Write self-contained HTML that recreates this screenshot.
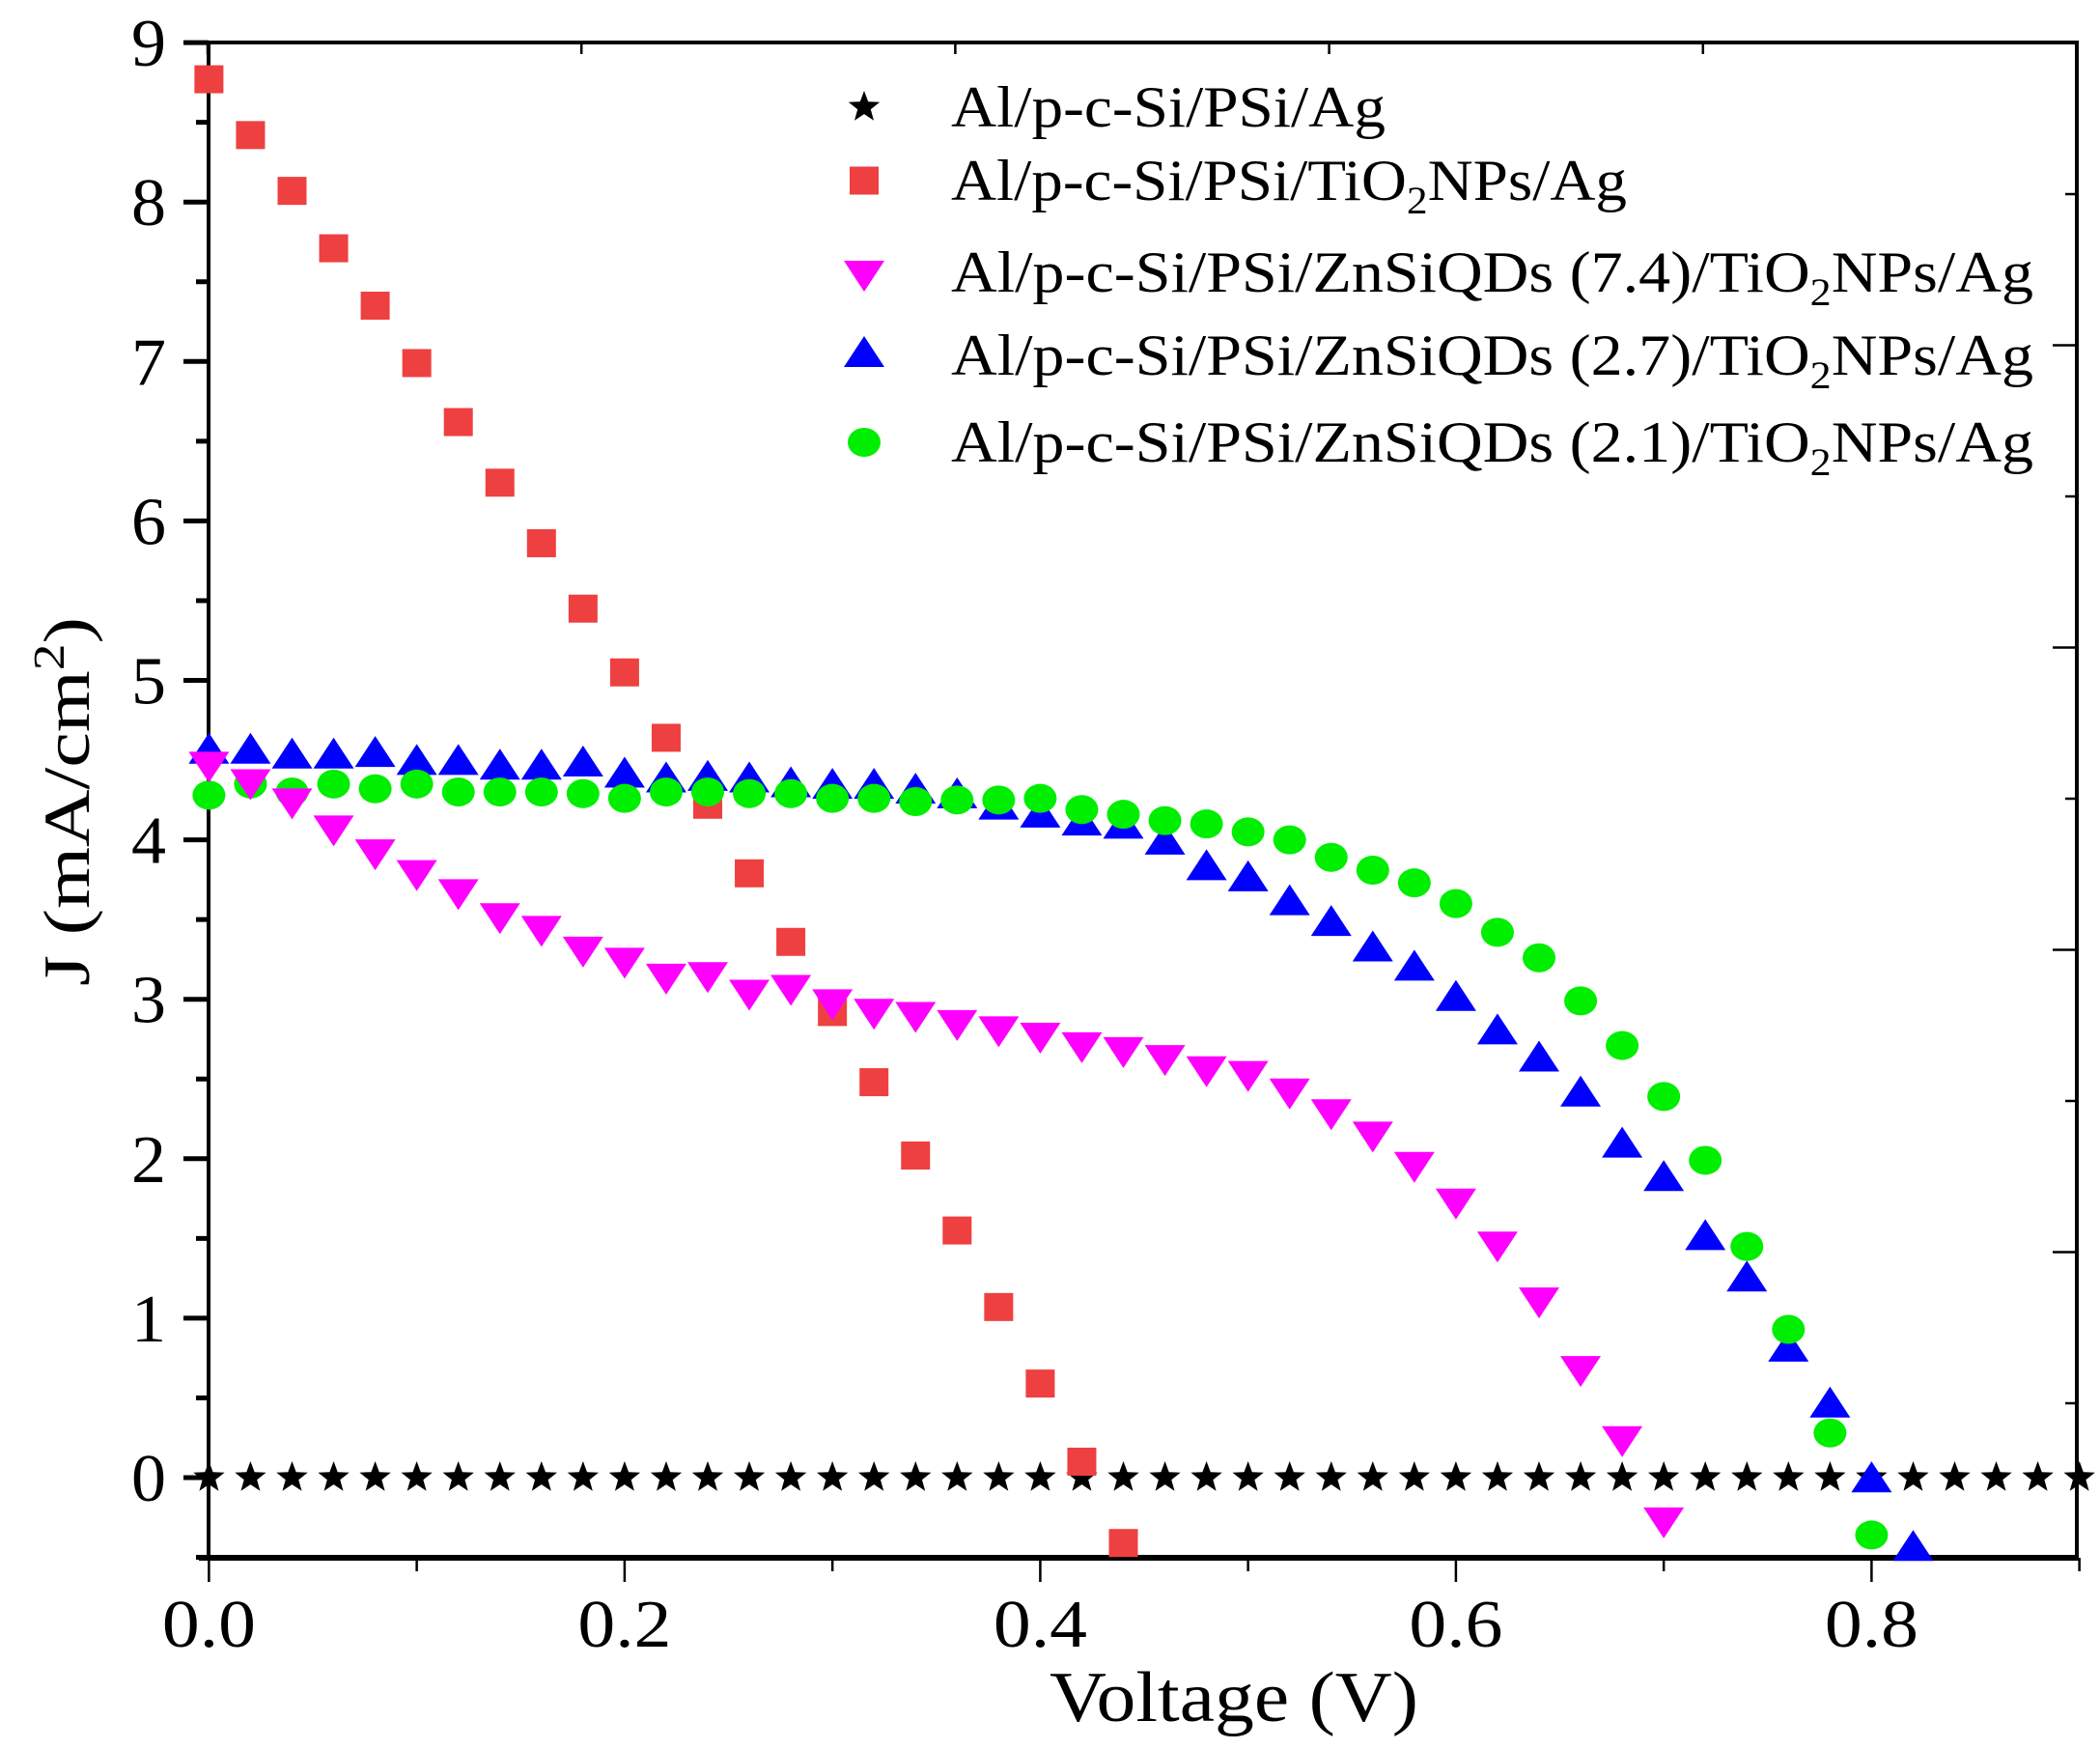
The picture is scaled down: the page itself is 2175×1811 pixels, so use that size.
<!DOCTYPE html>
<html><head><meta charset="utf-8"><style>
html,body{margin:0;padding:0;background:#fff}
svg{display:block}
text{font-family:"Liberation Serif","Times New Roman",serif;fill:#000}
</style></head><body>
<svg id="chart" width="2175" height="1811" viewBox="0 0 2175 1811" xmlns="http://www.w3.org/2000/svg">
<g id="axes"></g>
<g id="marks"></g>
<g id="legend"></g>
</svg>
<script>
const xTicks = [0, 0.2, 0.4, 0.6, 0.8];
const xTickLabels = ["0.0", "0.2", "0.4", "0.6", "0.8"];
const yTicks = [0, 1, 2, 3, 4, 5, 6, 7, 8, 9];
const yTickLabels = ["0", "1", "2", "3", "4", "5", "6", "7", "8", "9"];
const seriesNames = ["Al/p-c-Si/PSi/Ag", "Al/p-c-Si/PSi/TiO2NPs/Ag", "Al/p-c-Si/PSi/ZnSiQDs (7.4)/TiO2NPs/Ag", "Al/p-c-Si/PSi/ZnSiQDs (2.7)/TiO2NPs/Ag", "Al/p-c-Si/PSi/ZnSiQDs (2.1)/TiO2NPs/Ag"];
const stepV = 0.02;
const blackJ = [0,0,0,0,0,0,0,0,0,0,0,0,0,0,0,0,0,0,0,0,0,0,0,0,0,0,0,0,0,0,0,0,0,0,0,0,0,0,0,0,0,0,0,0,0,0];
const redJ = [8.77,8.42,8.07,7.71,7.35,6.99,6.62,6.24,5.86,5.45,5.05,4.64,4.22,3.79,3.36,2.92,2.48,2.02,1.55,1.07,0.59,0.10,-0.41];
const magentaJ = [4.48,4.37,4.25,4.08,3.93,3.80,3.68,3.53,3.45,3.32,3.25,3.15,3.16,3.05,3.08,2.99,2.93,2.91,2.86,2.82,2.78,2.72,2.69,2.64,2.57,2.54,2.43,2.30,2.16,1.97,1.74,1.47,1.12,0.69,0.25,-0.26];
const blueJ = [4.55,4.55,4.52,4.52,4.53,4.48,4.48,4.45,4.45,4.47,4.40,4.37,4.38,4.37,4.34,4.33,4.33,4.30,4.27,4.20,4.15,4.10,4.08,3.98,3.82,3.75,3.60,3.47,3.31,3.19,3.00,2.79,2.62,2.40,2.08,1.87,1.50,1.24,0.80,0.45,-0.02,-0.45];
const greenJ = [4.28,4.35,4.30,4.35,4.32,4.35,4.30,4.30,4.30,4.29,4.26,4.30,4.30,4.29,4.29,4.26,4.26,4.24,4.25,4.25,4.26,4.19,4.16,4.12,4.10,4.05,4.00,3.89,3.81,3.73,3.60,3.42,3.26,2.99,2.71,2.39,1.99,1.45,0.93,0.28,-0.36];

const NS = "http://www.w3.org/2000/svg";
const X0 = 216.4, XS = 2152.5, Y0 = 1530, YS = 165.1;
const L = 216, R = 2151, T = 44, B = 1613;
function xs(v){ return X0 + v * XS; }
function ys(j){ return Y0 - j * YS; }
function mk(tag, attrs, parent){ const e = document.createElementNS(NS, tag); for (const k in attrs) e.setAttribute(k, attrs[k]); parent.appendChild(e); return e; }

const axes = document.getElementById('axes');
const marks = document.getElementById('marks');
const legend = document.getElementById('legend');

let fr = mk('rect', {x:L, y:T, width:R-L, height:B-T, fill:'none', stroke:'#000', 'stroke-width':4}, axes);


let bl = mk('line', {x1:206, y1:B, x2:R+2, y2:B, stroke:'#000', 'stroke-width':6}, axes);



for (let i = 0; i <= 9; i++) {
  const v = i * 0.1; const major = i % 2 === 0;
  const t = mk('line', {x1:xs(v), y1:B, x2:xs(v), y2:B + (major ? 25 : 14), stroke:'#000', 'stroke-width':2.5}, axes);
  
  
}
xTicks.forEach((v, i) => {
  const t = mk('text', {x:xs(v), y:1705, 'font-size':70, 'text-anchor':'middle', textLength:97, lengthAdjust:'spacingAndGlyphs'}, axes);
  t.textContent = xTickLabels[i];
  
  
});
for (let i = 0; i <= 5; i++) {
  const x = 215 + i * 387.2;
  const t = mk('line', {x1:x, y1:T, x2:x, y2:T + 12, stroke:'#000', 'stroke-width':2.5}, axes);
  
  
}
for (let i = -1; i <= 18; i++) {
  const j = i * 0.5; const major = i % 2 === 0;
  const y = ys(j); if (y > B + 1 || y < T - 1) continue;
  const t = mk('line', {x1:L - (major ? 26 : 13), y1:y, x2:L, y2:y, stroke:'#000', 'stroke-width':5}, axes);
  
  
}
yTicks.forEach((v, i) => {
  const t = mk('text', {x:172, y:ys(v) + 24, 'font-size':70, 'text-anchor':'end', textLength:36, lengthAdjust:'spacingAndGlyphs'}, axes);
  t.textContent = yTickLabels[i];
  
  
});
for (let i = 0; i < 9; i++) {
  const y = 201 + i * 156.5; const major = i % 2 === 1;
  const t = mk('line', {x1:R - (major ? 25 : 12), y1:y, x2:R, y2:y, stroke:'#000', 'stroke-width':2.5}, axes);
  
  
}
const xt = mk('text', {x:1278, y:1782, 'font-size':74, 'text-anchor':'middle', textLength:382, lengthAdjust:'spacingAndGlyphs'}, axes);
xt.textContent = 'Voltage (V)';


const yt = mk('text', {x:0, y:0, 'font-size':68, 'text-anchor':'middle', textLength:382, lengthAdjust:'spacingAndGlyphs', transform:'translate(92,830) rotate(-90)'}, axes);
yt.innerHTML = 'J (mA/cm<tspan dy="-26" font-size="46">2</tspan><tspan dy="26">)</tspan>';



const colors = ['#000000', '#ee4040', '#ff00ff', '#0000ff', '#00ee00'];
function star(cx, cy, r){ let p=[]; for(let k=0;k<10;k++){const a=-Math.PI/2+k*Math.PI/5; const rr=k%2?r*0.42:r; p.push((cx+rr*Math.cos(a)).toFixed(1)+','+(cy+rr*Math.sin(a)).toFixed(1));} return p.join(' '); }
function drawMarker(type, cx, cy, parent){
  let e;
  if (type === 0) e = mk('polygon', {points:star(cx, cy, 17), fill:colors[0]}, parent);
  else if (type === 1) e = mk('rect', {x:cx-15, y:cy-14.5, width:30, height:29, fill:colors[1]}, parent);
  else if (type === 2) e = mk('polygon', {points:`${cx-21},${cy-12} ${cx+21},${cy-12} ${cx},${cy+20}`, fill:colors[2]}, parent);
  else if (type === 3) e = mk('polygon', {points:`${cx-21},${cy+12} ${cx+21},${cy+12} ${cx},${cy-20}`, fill:colors[3]}, parent);
  else e = mk('ellipse', {cx:cx, cy:cy, rx:17, ry:15, fill:colors[4]}, parent);
  return e;
}
const seriesData = [blackJ, redJ, magentaJ, blueJ, greenJ];
const drawOrder = [0, 1, 3, 4, 2];
const seriesKeys = ['black', 'red', 'magenta', 'blue', 'green'];
drawOrder.forEach(s => {
  const g = mk('g', {}, marks);
  
  
  seriesData[s].forEach((j, i) => {
    const e = drawMarker(s, xs(i * stepV), ys(j), g);
    
    
  });
});

const legY = [111, 187, 282, 368, 458];
const legW = [450, 700, 1121, 1121, 1121];
seriesNames.forEach((name, i) => {
  const g = mk('g', {}, legend);
  
  
  const m = drawMarker(i, 895, legY[i], g);
  
  
  const t = mk('text', {x:985, y:legY[i] + 20, 'font-size':60, textLength:legW[i], lengthAdjust:'spacingAndGlyphs'}, g);
  t.innerHTML = name.replace('TiO2', 'TiO<tspan dy="14" font-size="40">2</tspan><tspan dy="-14">') + (name.includes('TiO2') ? '</tspan>' : '');
  
  
});
</script>
</body></html>
